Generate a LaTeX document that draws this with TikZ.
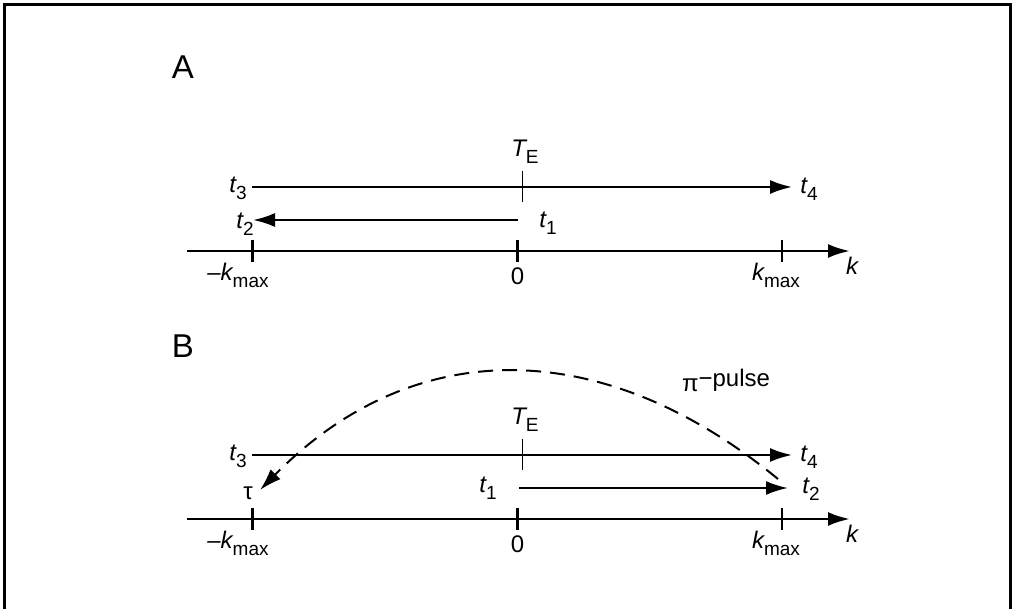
\documentclass[tikz,border=0pt]{standalone}
\usepackage{fontspec}
\setmainfont{Liberation Sans}
\usetikzlibrary{arrows.meta}
\newcommand{\lbl}[2]{{\itshape #1}\raisebox{-0.55ex}{\fontsize{9.5}{11}\selectfont #2}}
\tikzset{
  lab/.style={inner sep=0pt, font=\fontsize{12}{14}\selectfont},
  panellab/.style={inner sep=0pt, font=\fontsize{16.5}{19}\selectfont},
  axisline/.style={line width=1.4pt, -{Latex[length=11pt,width=7pt]}},
  tline/.style={line width=1.2pt, -{Latex[length=11pt,width=7pt]}},
  tick/.style={line width=1.4pt},
  thintick/.style={line width=0.55pt},
  pulse/.style={line width=1pt, dash pattern=on 7.5pt off 4.5pt, -{Latex[length=11pt,width=7pt]}},
  frameline/.style={line width=1.5pt}
}
\begin{document}
\begin{tikzpicture}[x=0.5pt,y=-0.5pt]
\useasboundingbox (0,0) rectangle (1014,609);
% frame
\coordinate (f1) at (4.5,609);
\coordinate (f2) at (4.5,4.5);
\coordinate (f3) at (1010,4.5);
\coordinate (f4) at (1010,609);
\draw[frameline] (f1) -- (f2) -- (f3) -- (f4);

% ================= Panel A =================
\node[panellab] (A) at (183,67) {A};
\coordinate (aL) at (187,251);
\coordinate (aR) at (850,251);
\draw[axisline] (aL) -- (aR);
\coordinate (amk) at (252.5,251);
\coordinate (az) at (517.5,251);
\coordinate (apk) at (782,251);
\draw[tick] ([yshift=5.5pt]amk) -- ([yshift=-5.5pt]amk);
\draw[tick] ([yshift=5.5pt]az) -- ([yshift=-5.5pt]az);
\draw[tick] ([yshift=5.5pt]apk) -- ([yshift=-5.5pt]apk);
\node[lab] (amkl) at (238,275) {\lbl{–k}{max}};
\node[lab] (azl) at (517.5,276) {0};
\node[lab] (apkl) at (776,275) {\lbl{k}{max}};
\node[lab] (akl) at (852,266) {\itshape k};
% t3 -> t4
\coordinate (a3) at (252,187);
\coordinate (a4) at (792,187);
\draw[tline, line width=1.05pt] (a3) -- (a4);
\node[lab] (at3) at (238,188) {\lbl{t}{3}};
\node[lab] (at4) at (809,189) {\lbl{t}{4}};
% TE
\coordinate (aTt) at (522.5,171);
\coordinate (aTb) at (522.5,202);
\draw[thintick] (aTt) -- (aTb);
\node[lab] (aTE) at (525,152) {\lbl{T}{E}};
% t1 -> t2
\coordinate (a1) at (518,220);
\coordinate (a2) at (253,220);
\draw[tline] (a1) -- (a2);
\node[lab] (at2) at (245,224) {\lbl{t}{2}};
\node[lab] (at1) at (548,223) {\lbl{t}{1}};

% ================= Panel B =================
\node[panellab] (B) at (183,346) {B};
\coordinate (bL) at (187,519);
\coordinate (bR) at (850,519);
\draw[axisline] (bL) -- (bR);
\coordinate (bmk) at (252.5,519);
\coordinate (bz) at (517.5,519);
\coordinate (bpk) at (782,519);
\draw[tick] ([yshift=5.5pt]bmk) -- ([yshift=-5.5pt]bmk);
\draw[tick] ([yshift=5.5pt]bz) -- ([yshift=-5.5pt]bz);
\draw[tick] ([yshift=5.5pt]bpk) -- ([yshift=-5.5pt]bpk);
\node[lab] (bmkl) at (238,543) {\lbl{–k}{max}};
\node[lab] (bzl) at (517.5,544) {0};
\node[lab] (bpkl) at (776,543) {\lbl{k}{max}};
\node[lab] (bkl) at (852,534) {\itshape k};
% t3 -> t4
\coordinate (b3) at (252,455);
\coordinate (b4) at (792,455);
\draw[tline, line width=1.05pt] (b3) -- (b4);
\node[lab] (bt3) at (238,456) {\lbl{t}{3}};
\node[lab] (bt4) at (809,457) {\lbl{t}{4}};
% TE
\coordinate (bTt) at (522.5,439);
\coordinate (bTb) at (522.5,470);
\draw[thintick] (bTt) -- (bTb);
\node[lab] (bTE) at (525,420) {\lbl{T}{E}};
% t1 -> t2
\coordinate (b1) at (519,488);
\coordinate (b2) at (788,488);
\draw[tline] (b1) -- (b2);
\node[lab] (bt1) at (488,488) {\lbl{t}{1}};
\node[lab] (bt2) at (811,489) {\lbl{t}{2}};
\node[lab] (btau) at (248,493) {τ};
% pi pulse
\coordinate (ps) at (778,479);
\coordinate (pe) at (260,490);
\draw[pulse] (ps) .. controls (600,333) and (412,336) .. (pe);
\node[lab] (pl) at (726,380) {\raisebox{-0.4ex}{π}−pulse};
\end{tikzpicture}
\end{document}
